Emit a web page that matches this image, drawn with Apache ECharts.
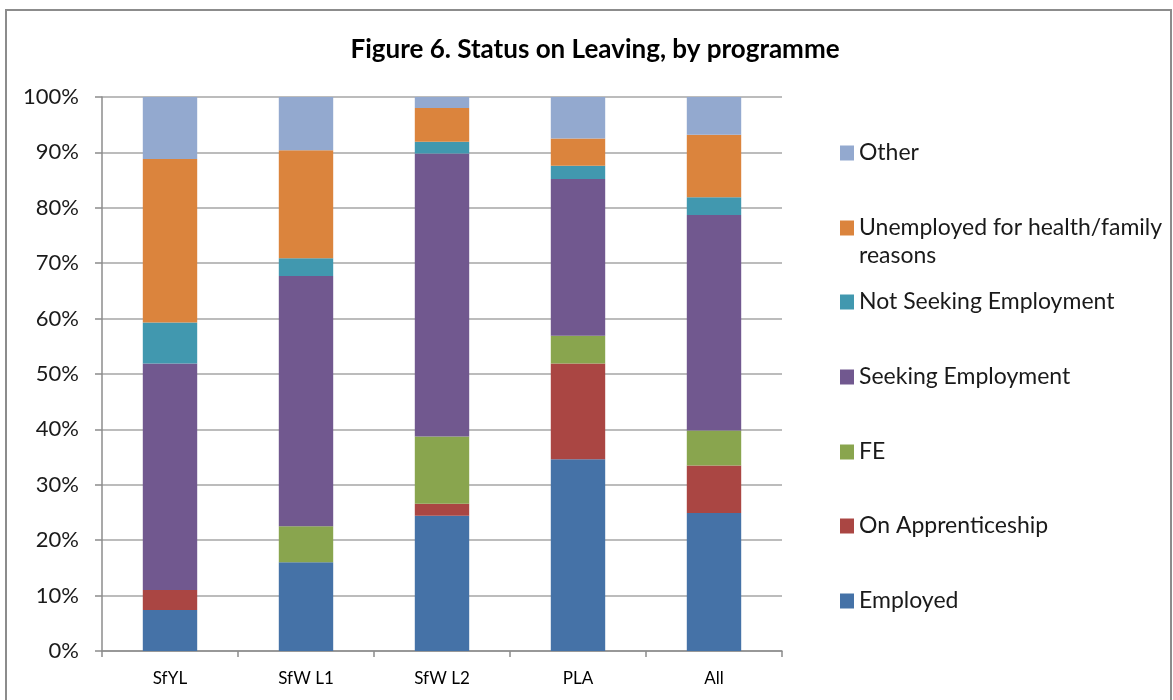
<!DOCTYPE html>
<html>
<head>
<meta charset="utf-8">
<script src="https://cdn.jsdelivr.net/npm/echarts@6/dist/echarts.min.js"></script>
<style>
  html, body { margin: 0; padding: 0; background: #fff; }
  #chart { width: 1173px; height: 700px; }
</style>
</head>
<body>
<div id="chart"></div>
<script>
// programmes on the x axis
var categories = ['SfYL', 'SfW L1', 'SfW L2', 'PLA', 'All'];

// share of leavers (%) per status, one value per programme
var employed     = [7.4, 16.0, 24.4, 34.6, 24.9];
var apprentice   = [3.6, 0.0, 2.2, 17.3, 8.6];
var fe           = [0.0, 6.5, 12.1, 5.0, 6.3];
var seeking      = [40.9, 45.2, 51.1, 28.3, 38.9];
var notSeeking   = [7.4, 3.2, 2.1, 2.4, 3.2];
var unemployed   = [29.5, 19.5, 6.1, 4.9, 11.3];
var other        = [11.2, 9.6, 2.0, 7.5, 6.8];

var yTicks = [0, 10, 20, 30, 40, 50, 60, 70, 80, 90, 100];

var font = 'Lato, "Open Sans", sans-serif';

var seriesDefs = [
    { name: 'Employed', data: employed, color: '#4572A7' },
    { name: 'On Apprenticeship', data: apprentice, color: '#AA4643' },
    { name: 'FE', data: fe, color: '#89A54E' },
    { name: 'Seeking Employment', data: seeking, color: '#71588F' },
    { name: 'Not Seeking Employment', data: notSeeking, color: '#4198AF' },
    { name: 'Unemployed for health/family reasons', data: unemployed, color: '#DB843D' },
    { name: 'Other', data: other, color: '#93A9CF' }
];

// legend rows (centre y of the icon), top to bottom
var legendRows = [
    ['Other', 153],
    ['Unemployed for health/family reasons', 228],
    ['Not Seeking Employment', 302],
    ['Seeking Employment', 377],
    ['FE', 452],
    ['On Apprenticeship', 526],
    ['Employed', 601]
];

var legends = legendRows.map(function (r) {
    var twoLine = r[0].indexOf('Unemployed') === 0;
    return {
        orient: 'vertical',
        left: 840,
        top: twoLine ? r[1] - 42 : r[1] - 14,
        padding: 0,
        itemWidth: 14,
        itemHeight: 15,
        icon: 'rect',
        selectedMode: false,
        data: [r[0]],
        formatter: function (name) {
            if (name.indexOf('Unemployed') === 0) {
                return '\nUnemployed for health/family\nreasons';
            }
            return name;
        },
        textStyle: { fontFamily: font, fontSize: 23, lineHeight: 28, color: '#1a1a1a' }
    };
});

var myChart = echarts.init(document.getElementById('chart'));
var option = {
    backgroundColor: '#fff',
    animation: false,
    title: {
        text: 'Figure 6. Status on Leaving, by programme',
        left: 590,
        textAlign: 'center',
        top: 32,
        textStyle: { fontFamily: font, fontSize: 26, fontWeight: 'bold', color: '#000' }
    },
    graphic: [{
        type: 'rect',
        shape: { x: 6, y: 10, width: 1165, height: 700 },
        style: { fill: 'none', stroke: '#8c8c8c', lineWidth: 2 },
        silent: true
    }],
    legend: legends,
    grid: { left: 102, right: 391, top: 97, bottom: 49 },
    xAxis: {
        type: 'category',
        data: categories,
        axisLine: { lineStyle: { color: '#8c8c8c', width: 1.5 } },
        axisTick: { show: true, length: 6, lineStyle: { color: '#8c8c8c', width: 1.5 } },
        axisLabel: { fontFamily: font, fontSize: 17, color: '#000', margin: 19 }
    },
    yAxis: {
        type: 'value',
        min: 0,
        max: 100,
        interval: 10,
        axisLine: { show: true, lineStyle: { color: '#8c8c8c', width: 1.5 } },
        axisTick: { show: true, length: 7, lineStyle: { color: '#8c8c8c', width: 1.5 } },
        splitLine: { lineStyle: { color: '#a6a6a6', width: 1.5 } },
        axisLabel: {
            fontFamily: font, fontSize: 22, color: '#1a1a1a', margin: 23,
            formatter: function (v) { return yTicks.indexOf(v) >= 0 ? v + '%' : ''; }
        }
    },
    series: seriesDefs.map(function (s) {
        return {
            name: s.name,
            type: 'bar',
            stack: 'total',
            barWidth: '40%',
            data: s.data,
            itemStyle: { color: s.color }
        };
    })
};
myChart.setOption(option);
</script>
</body>
</html>
